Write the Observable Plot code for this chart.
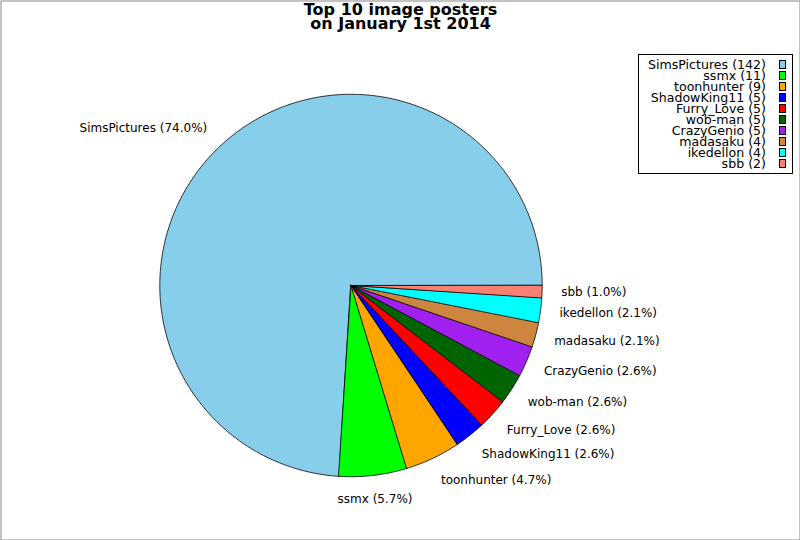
<!DOCTYPE html>
<html>
<head>
<meta charset="utf-8">
<script src="https://cdn.jsdelivr.net/npm/d3@7"></script>
<script src="https://cdn.jsdelivr.net/npm/@observablehq/plot@0.6"></script>
<style>
  html, body { margin: 0; padding: 0; background: #fff; }
  #wrap { position: relative; width: 800px; height: 540px; font-family: "DejaVu Sans", sans-serif; }
  #wrap svg { display: block; }
  #legend {
    position: absolute; left: 638px; top: 54px; width: 155px; height: 120px;
    box-sizing: border-box; border: 1px solid #000; background: #fff;
    padding: 3.5px 6px 0 0; font-size: 12.6px; color: #000;
  }
  #legend .row { display: flex; justify-content: flex-end; align-items: center; height: 11px; line-height: 11px; white-space: nowrap; }
  #legend .sw { display: inline-block; width: 7px; height: 9px; box-sizing: border-box; border: 0.8px solid #000; margin-left: 13px; }
</style>
</head>
<body>
<div id="wrap"><div id="legend"></div></div>
<script>
// ---- data ----
const names = ["SimsPictures", "ssmx", "toonhunter", "ShadowKing11", "Furry_Love", "wob-man", "CrazyGenio", "madasaku", "ikedellon", "sbb"];
const counts = [142, 11, 9, 5, 5, 5, 5, 4, 4, 2];
const colors = ["#87CEEB", "#00FF00", "#FFA500", "#0000FF", "#FF0000", "#006400", "#A020F0", "#CD853F", "#00FFFF", "#FA8072"];
const titleLines = ["Top 10 image posters", "on January 1st 2014"];

// ---- layout ----
const W = 800, H = 540, cx = 350.5, cy = 285, R = 191.2, labelDistX = 1.1, labelDistY = 1.125;

const total = d3.sum(counts);
let acc = 0;
const slices = names.map((name, i) => {
  const a0 = acc / total * 2 * Math.PI;
  acc += counts[i];
  const a1 = acc / total * 2 * Math.PI;
  return {name, count: counts[i], a0, a1, pct: counts[i] / total * 100};
});

const outline = slices.flatMap(s => {
  const pts = [{name: s.name, x: 0, y: 0}];
  const n = Math.max(2, Math.ceil((s.a1 - s.a0) / (Math.PI / 360)));
  for (let k = 0; k <= n; k++) {
    const a = s.a0 + (s.a1 - s.a0) * k / n;
    pts.push({name: s.name, x: Math.cos(a), y: Math.sin(a)});
  }
  return pts;
});

const labels = slices.map(s => {
  const m = (s.a0 + s.a1) / 2;
  return {x: labelDistX * Math.cos(m), y: labelDistY * Math.sin(m), c: Math.cos(m), text: `${s.name} (${s.pct.toFixed(1)}%)`};
});

const textOpts = {x: "x", y: "y", text: "text", fontSize: 12, fill: "black"};

const chart = Plot.plot({
  width: W, height: H, margin: 0,
  x: {domain: [-cx / R, (W - cx) / R], axis: null},
  y: {domain: [-(H - cy) / R, cy / R], axis: null},
  color: {domain: names, range: colors},
  style: {fontFamily: "DejaVu Sans, sans-serif", background: "white", color: "black"},
  marks: [
    Plot.line(outline, {x: "x", y: "y", z: "name", fill: "name", stroke: "black", strokeWidth: 0.8, curve: "linear-closed"}),
    Plot.text(labels.filter(d => d.c > 0.15), {...textOpts, textAnchor: "start"}),
    Plot.text(labels.filter(d => d.c < -0.15), {...textOpts, textAnchor: "end"}),
    Plot.text(labels.filter(d => Math.abs(d.c) <= 0.15), {...textOpts, textAnchor: "middle"}),
    Plot.text([titleLines.join("\n")], {frameAnchor: "top", lineAnchor: "top", dy: 5, fontWeight: "bold", fontSize: 16, lineHeight: 0.87, fill: "black"}),
    Plot.frame({stroke: "#888", inset: 0.5})
  ]
});
document.getElementById("wrap").prepend(chart);

// legend
const legend = d3.select("#legend");
names.forEach((n, i) => {
  const row = legend.append("div").attr("class", "row");
  row.append("span").text(`${n} (${counts[i]})`);
  row.append("span").attr("class", "sw").style("background", colors[i]);
});
</script>
</body>
</html>
